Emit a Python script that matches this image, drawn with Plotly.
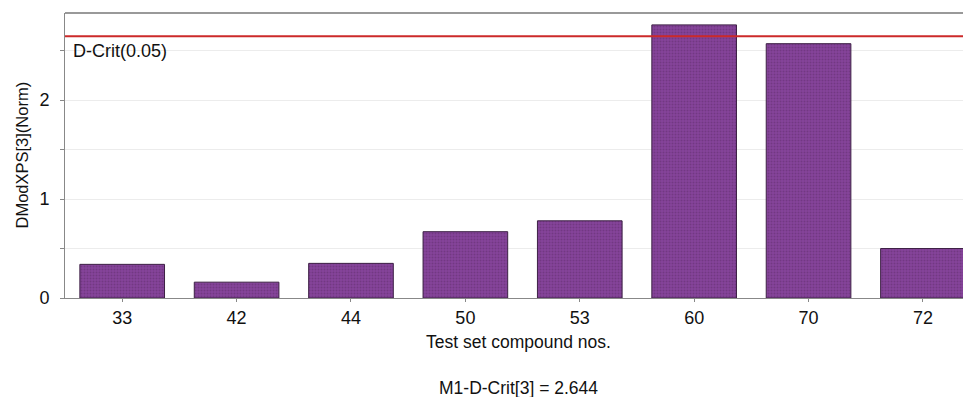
import plotly.graph_objects as go

compounds = ["33", "42", "44", "50", "53", "60", "70", "72"]
dmodx = [0.34, 0.16, 0.35, 0.67, 0.78, 2.76, 2.57, 0.50]
d_crit = 2.644
y_tickvals = [0, 0.5, 1, 1.5, 2, 2.5]
y_ticktext = ["0", "", "1", "", "2", ""]

FONT = "Liberation Sans, Arial, Helvetica, sans-serif"

fig = go.Figure()
fig.add_trace(go.Bar(
    x=list(range(len(compounds))), y=dmodx, width=0.74,
    marker=dict(color="#7f3f8e", line=dict(color="#3d2045", width=1),
                pattern=dict(shape=".", fgcolor="#5f2b6b", bgcolor="#85449a", size=3, solidity=0.35)),
    hoverinfo="skip",
))

fig.add_shape(type="line", xref="paper", yref="y", x0=0, x1=1, y0=d_crit, y1=d_crit,
              line=dict(color="#cc2a2a", width=2))
fig.add_annotation(xref="paper", yref="y", x=0, y=d_crit, xshift=6, yshift=-3,
                   text="D-Crit(0.05)", showarrow=False, xanchor="left", yanchor="top",
                   font=dict(family=FONT, size=18, color="#111"))
fig.add_annotation(xref="paper", yref="paper", x=0, xshift=-44, y=0.5, textangle=-90,
                   text="DModXPS[3](Norm)", showarrow=False, xanchor="center", yanchor="middle",
                   font=dict(family=FONT, size=16.5, color="#111"))
fig.add_annotation(xref="paper", yref="paper", x=0.5, y=0, yshift=-44,
                   text="Test set compound nos.", showarrow=False, xanchor="center", yanchor="middle",
                   font=dict(family=FONT, size=17.5, color="#111"))
fig.add_annotation(xref="paper", yref="paper", x=0.5, y=0, yshift=-90,
                   text="M1-D-Crit[3] = 2.644", showarrow=False, xanchor="center", yanchor="middle",
                   font=dict(family=FONT, size=17.5, color="#111"))

fig.update_layout(
    width=963, height=389,
    margin=dict(l=57, r=0, t=5, b=99),
    paper_bgcolor="white", plot_bgcolor="white",
    showlegend=False,
    font=dict(family=FONT, size=18, color="#111"),
    xaxis=dict(range=[-0.5, 7.42], tickvals=list(range(len(compounds))), ticktext=compounds,
               showgrid=False, zeroline=False, showline=True, linecolor="#888", linewidth=1,
               ticks="outside", ticklen=3, tickcolor="#888", mirror=False,
               tickfont=dict(family=FONT, size=18, color="#111")),
    yaxis=dict(range=[0, 2.88], tickvals=y_tickvals, ticktext=y_ticktext,
               showgrid=True, gridcolor="#ececec", gridwidth=1, zeroline=False,
               showline=True, linecolor="#888", linewidth=1, ticks="outside", ticklen=4,
               tickcolor="#888", ticklabelstandoff=7,
               tickfont=dict(family=FONT, size=18, color="#111")),
)
fig.add_shape(type="line", xref="paper", yref="paper", x0=0, x1=1, y0=1, y1=1,
              line=dict(color="#999", width=2))

fig.write_html("out.html")
